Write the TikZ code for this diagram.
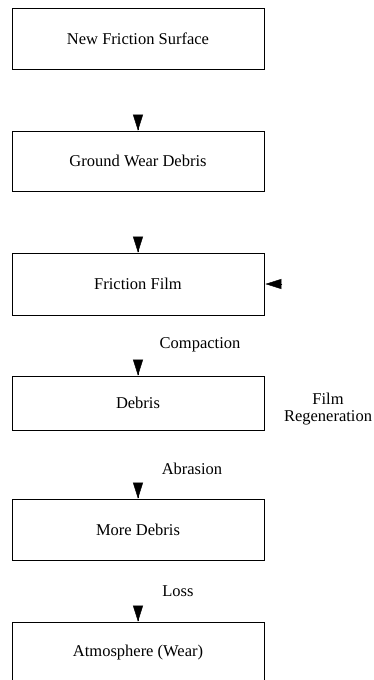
\documentclass[tikz,border=0pt]{standalone}
\usepackage{fontspec}
\setmainfont{Liberation Serif}
\usetikzlibrary{arrows.meta,calc}
\begin{document}
\begin{tikzpicture}[x=1pt,y=-1pt,
  stagebox/.style={draw,line width=0.8pt,minimum width=252pt,inner sep=0pt,font=\fontsize{16.5}{18}\selectfont},
  flowtip/.style={-{Triangle[length=16pt,width=10pt]},line width=0.4pt},
  lbl/.style={font=\fontsize{16.5}{18}\selectfont,inner sep=0pt}]
\useasboundingbox (0,0) rectangle (373,680);
\node[stagebox,minimum height=61pt] (b1) at (138,38.5) {New Friction Surface};
\node[stagebox,minimum height=60pt] (b2) at (138,161) {Ground Wear Debris};
\node[stagebox,minimum height=62pt] (b3) at (138,284) {Friction Film};
\node[stagebox,minimum height=54pt] (b4) at (138,403) {Debris};
\node[stagebox,minimum height=61pt] (b5) at (138,529.5) {More Debris};
\node[stagebox,minimum height=61pt] (b6) at (138,652.5) {Atmosphere (Wear)};
\node[lbl] (lc) at (200,345) {Compaction};
\node[lbl] (la) at (192,469) {Abrasion};
\node[lbl] (ll) at (178,591) {Loss};
\node[lbl,align=center,font=\fontsize{16.5}{17}\selectfont] (lf) at (328,409) {Film\\Regeneration};
\foreach \n in {b2,b3,b4,b5,b6}{
  \draw[flowtip] ($(\n.north)+(0,-1)$) -- (\n.north);
}
\coordinate (rf) at ($(b3.east)+(18,0)$);
\draw[flowtip] (rf) -- ($(b3.east)+(1,0)$);
\end{tikzpicture}
\end{document}
